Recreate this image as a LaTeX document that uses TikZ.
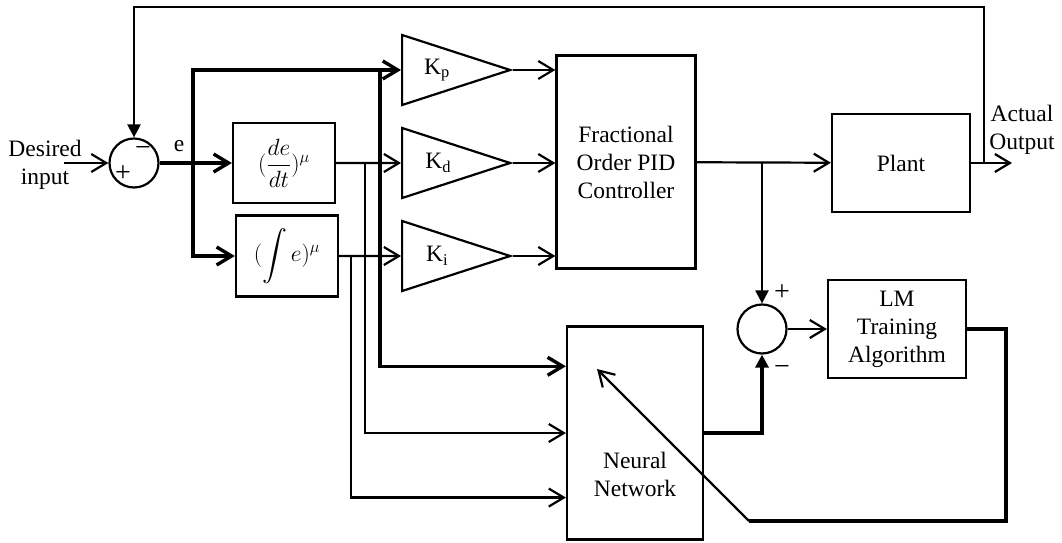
\RequirePackage{fix-cm}
\documentclass[tikz,border=0pt]{standalone}
\usepackage{fontspec}
\setmainfont{Liberation Serif}
\usepackage{amsmath}
\usepackage{tikz}
\usetikzlibrary{positioning,shapes.geometric,arrows.meta,calc}

\begin{document}
\begin{tikzpicture}[x=1pt, y=-1pt,
  font=\fontsize{23.5}{28}\selectfont,
  block_/.style={rectangle, draw, line width=2.2pt, align=center, inner sep=0pt},
  gain_/.style={isosceles triangle, isosceles triangle stretches, shape border rotate=0,
    draw, line width=2.2pt, minimum width=70pt, minimum height=108pt, inner sep=0pt, anchor=apex},
  sum_/.style={circle, draw, line width=2.2pt, minimum size=49pt, inner sep=0pt},
  sign_/.style={font=\fontsize{28}{28}\selectfont, inner sep=0pt},
  arr/.style={-{Straight Barb[length=15pt,width=18pt]}, line width=2.2pt},
  arrf/.style={-{Triangle[length=13pt,width=13pt]}, line width=2.2pt},
  thk/.style={line width=3.4pt}
]
\useasboundingbox (0,0) rectangle (1062,543);

% forward path
\node[align=center] (din) at (45,165) {Desired\\input};
\coordinate (in) at (64,163);
\node[sum_] (s1) at (134,163) {};
\node[sign_] (s1m) at (143,152) {−};
\node[sign_] (s1p) at (123,174) {+};
\node (e) at (179,146) {e};
\node[block_, minimum width=102pt, minimum height=80pt] (der) at (284,163) {$(\dfrac{de}{dt})^{\mu}$};
\node[block_, minimum width=102pt, minimum height=81pt] (int) at (287,256) {$(\displaystyle\int e)^{\mu}$};
\node[gain_] (kp) at (513,70) {\hspace*{14pt}K\textsubscript{p}};
\node[gain_] (kd) at (513,163) {\hspace*{14pt}K\textsubscript{d}};
\node[gain_] (ki) at (513,256) {\hspace*{14pt}K\textsubscript{i}};
\node[block_, minimum width=139pt, minimum height=213pt] (pid) at (626,162) {Fractional\\Order PID\\Controller};
\node[block_, minimum width=138pt, minimum height=98pt] (plant) at (901,163) {Plant};
\node[align=center] (aout) at (1022,130) {Actual\\Output};
\coordinate (out) at (1012,163);
\coordinate (fb) at (984,163);
\coordinate (top) at (134,7);

% learning loop
\node[sum_] (s2) at (762,329) {};
\node[sign_] (s2p) at (782,293) {+};
\node[sign_] (s2m) at (782,370) {−};
\node[block_, minimum width=138pt, minimum height=98pt] (lm) at (897,329) {LM\\Training\\Algorithm};
\node[block_, minimum width=136pt, minimum height=213pt] (nn) at (635,433) {};
\node[align=center] (nntxt) at (635,474) {Neural\\Network};
\coordinate (n1) at ($(nn.north west)!0.19!(nn.south west)$);
\coordinate (n2) at ($(nn.north west)!0.50!(nn.south west)$);
\coordinate (n3) at ($(nn.north west)!0.80!(nn.south west)$);
\coordinate (j1) at (193,163);
\coordinate (j2) at (380,70);
\coordinate (j3) at (365,163);
\coordinate (j4) at (351,256);
\coordinate (j5) at (762,163);
\coordinate (c2) at (749,521);
\coordinate (adj) at (597,369);

\draw[arr] (in) -- (s1);
\draw[arrf] (fb) |- (top) -- (s1);
\draw[arr] (plant.east) -- (out);
\draw[arr, thk] (s1) -- (der);
\draw[arr, thk] (j1) |- (kp.west);
\draw[arr, thk] (j1) |- (int);
\draw[arr, thk] (j2) |- (n1);
\draw[arr] (der) -- (kd.west);
\draw[arr] (int) -- (ki.west);
\draw[arr] (j3) |- (n2);
\draw[arr] (j4) |- (n3);
\draw[arr] (kp.apex) -- (kp.apex -| pid.west);
\draw[arr] (kd.apex) -- (kd.apex -| pid.west);
\draw[arr] (ki.apex) -- (ki.apex -| pid.west);
\draw[arr] (pid) -- (plant);
\draw[arrf] (j5) -- (s2);
\draw[arr] (s2) -- (lm);
\draw[arrf, thk] (nn.east) -| (s2);
\draw[thk] (lm.east) -- ++(39,0) |- (c2);
\draw[arr] (c2) -- (adj);
\end{tikzpicture}
\end{document}
